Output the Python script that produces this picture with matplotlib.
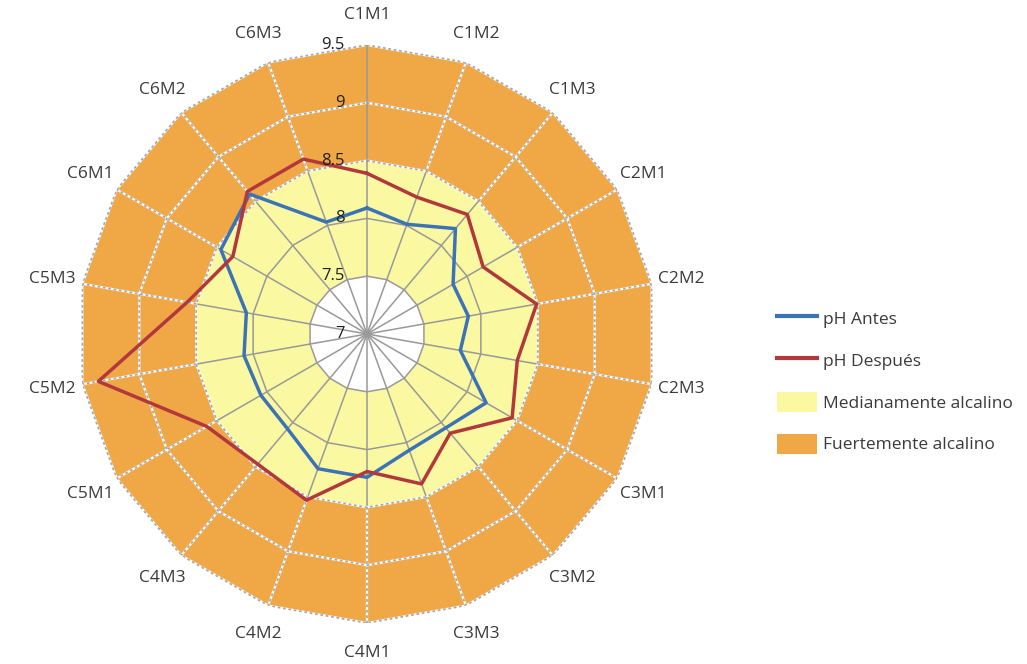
# Radar chart of pH before / after per sample, with alkalinity bands

import numpy as np
import matplotlib.pyplot as plt
from matplotlib.lines import Line2D
from matplotlib.patches import Patch
from matplotlib.transforms import offset_copy

plt.rcParams["font.family"] = ["Open Sans", "DejaVu Sans"]

# Data
categories = ["C1M1", "C1M2", "C1M3", "C2M1", "C2M2", "C2M3",
              "C3M1", "C3M2", "C3M3", "C4M1", "C4M2", "C4M3",
              "C5M1", "C5M2", "C5M3", "C6M1", "C6M2", "C6M3"]
ph_antes = [8.09, 8.01, 8.19, 7.86, 7.89, 7.82, 8.19, 8.06, 8.07,
            8.24, 8.24, 8.07, 8.06, 8.08, 8.06, 8.46, 8.58, 8.03]
ph_despues = [8.39, 8.26, 8.35, 8.16, 8.49, 8.32, 8.45, 8.12, 8.38,
              8.19, 8.53, 8.47, 8.60, 9.36, 8.58, 8.34, 8.61, 8.61]
ring_ticks = [7, 7.5, 8, 8.5, 9, 9.5]
band_labels = ["Medianamente alcalino", "Fuertemente alcalino"]
band_limits = [(7.5, 8.5), (8.5, 9.5)]

blue = "#3C72B6"
red = "#B2383B"
yellow = "#FAF9A2"
orange = "#F0A847"
grid_gray = "#999999"
text_col = "#3a3a3a"

n = len(categories)
theta = np.linspace(0, 2 * np.pi, n, endpoint=False)
th = np.append(theta, theta[0])


def closed(vals):
    return np.append(vals, vals[0])


fig = plt.figure(figsize=(10.27, 6.64), dpi=100)
ax = fig.add_axes([0.07595, 0.06175, 0.5628, 0.8705], projection="polar")
ax.set_theta_zero_location("N")
ax.set_theta_direction(-1)
ax.set_ylim(7, 9.5)
ax.set_axis_off()

# bands (filled polygons, outer first)
ax.fill(th, [band_limits[1][1]] * (n + 1), color=orange, zorder=1, lw=0)
ax.fill(th, [band_limits[0][1]] * (n + 1), color=yellow, zorder=1.1, lw=0)
ax.fill(th, [band_limits[0][0]] * (n + 1), color="white", zorder=1.2, lw=0)

# grid: solid inside, dashed light in the orange zone
for r in [7.5, 8]:
    ax.plot(th, [r] * (n + 1), color=grid_gray, lw=1.1, zorder=2)
for r in [8.5, 9, 9.5]:
    ax.plot(th, [r] * (n + 1), color="white", lw=1.6, zorder=2)
    ax.plot(th, [r] * (n + 1), color="#a8a8a8", lw=1.3, ls=(0, (1.5, 1.5)), zorder=2.1)
for i, t in enumerate(theta):
    ax.plot([t, t], [7, 8.5], color=grid_gray, lw=1.1, zorder=2)
    if i == 0:
        ax.plot([t, t], [8.5, 9.5], color=grid_gray, lw=1.1, zorder=2.2)
    else:
        ax.plot([t, t], [8.5, 9.5], color="white", lw=1.6, zorder=2)
        ax.plot([t, t], [8.5, 9.5], color="#a8a8a8", lw=1.3, ls=(0, (1.5, 1.5)), zorder=2.1)

# series
ax.plot(th, closed(ph_antes), color=blue, lw=2.5, zorder=5, label="pH Antes")
ax.plot(th, closed(ph_despues), color=red, lw=2.5, zorder=6, label="pH Después")

# radial tick labels, left of the top spoke
tr = offset_copy(ax.transData, fig=fig, x=-22, y=0, units="dots")
for v in ring_ticks:
    ax.text(0, v, f"{v:g}", transform=tr, ha="right", va="center",
            fontsize=12, color="#1f1f1f", zorder=7)

# category labels
for t, c in zip(theta, categories):
    ax.text(t, 9.76, c, ha="center", va="center", fontsize=12.5, color=text_col)

handles = [
    Line2D([], [], color=blue, lw=3),
    Line2D([], [], color=red, lw=3),
    Patch(facecolor=yellow, edgecolor="none"),
    Patch(facecolor=orange, edgecolor="none"),
]
labels = ["pH Antes", "pH Después"] + band_labels
fig.legend(handles, labels, loc="center left", bbox_to_anchor=(768 / 1027, 1 - 381 / 664),
           frameon=False, fontsize=12.5, handlelength=2.3, handleheight=1.4,
           handletextpad=0.35, labelspacing=1.25, borderpad=0, labelcolor=text_col)

fig.savefig("out.png", dpi=100)
